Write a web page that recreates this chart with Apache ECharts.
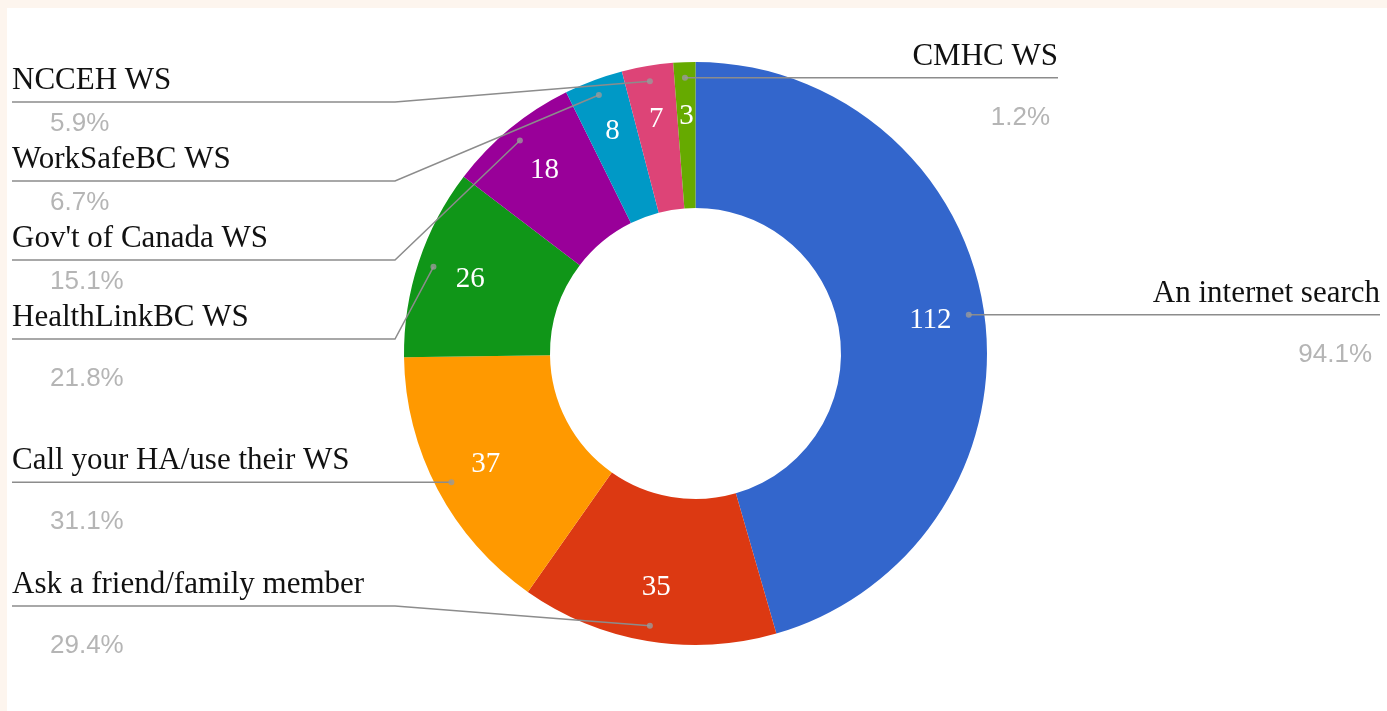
<!DOCTYPE html>
<html>
<head>
<meta charset="utf-8">
<script src="https://cdn.jsdelivr.net/npm/echarts@6/dist/echarts.min.js"></script>
<style>
  html, body { margin: 0; padding: 0; width: 1387px; height: 711px; overflow: hidden; background: #fdf5ee; }
  #paper { position: absolute; left: 7px; top: 8px; right: 0; bottom: 0; background: #fff; }
  #chartBox { position: absolute; left: 0; top: 0; width: 1387px; height: 711px; }
</style>
</head>
<body>
<div id="paper"></div>
<div id="chartBox"></div>
<script>
// data
var sources = ["An internet search", "Ask a friend/family member", "Call your HA/use their WS", "HealthLinkBC WS", "Gov't of Canada WS", "WorkSafeBC WS", "NCCEH WS", "CMHC WS"];
var counts = [112, 35, 37, 26, 18, 8, 7, 3];
var percentLabels = ["94.1%", "29.4%", "31.1%", "21.8%", "15.1%", "6.7%", "5.9%", "1.2%"];
var sliceColors = ["#3366cc", "#dc3912", "#ff9900", "#109618", "#990099", "#0099c6", "#dd4477", "#66aa00"];

// donut geometry (px)
var cx = 695.5, cy = 353.5, outerR = 291.5, innerR = 145.5, dotR = 276;

var total = counts.reduce(function (a, b) { return a + b; }, 0);

// leader line start points and which side each label goes to
var guides = [];
var cum = 0;
for (var i = 0; i < counts.length; i++) {
  var mid = cum + counts[i] / 2;
  cum += counts[i];
  var a = mid / total * Math.PI * 2;
  guides.push({
    mid: mid,
    x: cx + dotR * Math.sin(a),
    y: cy - dotR * Math.cos(a),
    side: Math.sin(a) > -0.05 ? "right" : "left"
  });
}

// push labels apart on each side so they don't overlap
function spread(side, top, bottom, gap) {
  var list = guides.filter(function (g) { return g.side === side; })
    .sort(function (p, q) { return p.y - q.y; });
  var prev = -Infinity;
  list.forEach(function (g) {
    g.lineY = Math.max(g.y, top, prev + gap);
    prev = g.lineY;
  });
  var next = Infinity;
  for (var j = list.length - 1; j >= 0; j--) {
    list[j].lineY = Math.min(list[j].lineY, bottom, next - gap);
    list[j].room = next - list[j].lineY;   // space down to the next label
    next = list[j].lineY;
  }
}
spread("left", 102, 606, 79);
spread("right", 60, 606, 79);

var chart = echarts.init(document.getElementById("chartBox"));

var pct = { fontFamily: "Liberation Sans", fontSize: 26, color: "#b5b5b5" };
function pctStyle(pad, lh) {
  return Object.assign({ padding: pad, lineHeight: lh }, pct);
}

var option = {
  animation: false,
  polar: { center: [cx, cy], radius: outerR },
  angleAxis: { type: "value", min: 0, max: total, startAngle: 90, clockwise: true, show: false },
  radiusAxis: { type: "value", min: 0, max: outerR, show: false },
  series: [
    {
      // the donut
      type: "pie",
      z: 2,
      center: [cx, cy],
      radius: [innerR, outerR],
      startAngle: 90,
      clockwise: true,
      silent: true,
      itemStyle: { borderWidth: 0 },
      label: { show: false },
      labelLine: { show: false },
      data: sources.map(function (s, i) {
        return { name: s, value: counts[i], itemStyle: { color: sliceColors[i] } };
      })
    },
    {
      // transparent pie on top, carries the names, percents and leader lines
      type: "pie",
      z: 5,
      center: [cx, cy],
      radius: [0, dotR],
      startAngle: 90,
      clockwise: true,
      silent: true,
      avoidLabelOverlap: false,
      itemStyle: { color: "rgba(0,0,0,0)", borderWidth: 0 },
      label: {
        show: true,
        position: "outside",
        width: 420,
        overflow: "none",
        formatter: function (p) {
          var g = guides[p.dataIndex];
          var key = (g.side === "left" ? "l" : "r") + (g.room < 100 ? "Tight" : "Loose");
          return "{n|" + p.name + "}\n{" + key + "|" + percentLabels[p.dataIndex] + "}";
        },
        rich: {
          n: { fontFamily: "Liberation Serif", fontSize: 31, color: "#111", lineHeight: 42 },
          lTight: pctStyle([0, 0, 0, 38], 44),
          lLoose: pctStyle([0, 0, 0, 38], 80),
          rTight: pctStyle([0, 8, 0, 0], 44),
          rLoose: pctStyle([0, 8, 0, 0], 80)
        }
      },
      labelLine: { show: true, lineStyle: { color: "#8c8c8c", width: 1.5 } },
      labelLayout: function (p) {
        var g = guides[p.dataIndex];
        var left = g.side === "left";
        var kneeX = left ? cx - outerR - 9 : cx + outerR + 9;
        var endX = left ? 12 : (g.y < cy - outerR * 0.8 ? 1058 : 1380);
        return {
          x: endX,
          y: g.lineY - 42,
          width: 420,
          align: left ? "left" : "right",
          verticalAlign: "top",
          labelLinePoints: [[g.x, g.y], [kneeX, g.lineY], [endX, g.lineY]]
        };
      },
      data: sources.map(function (s, i) {
        return { name: s, value: counts[i] };
      })
    },
    {
      // transparent ring that only carries the value labels
      type: "pie",
      z: 6,
      center: [cx, cy],
      radius: [177, outerR],
      startAngle: 90,
      clockwise: true,
      silent: true,
      itemStyle: { color: "rgba(0,0,0,0)", borderWidth: 0 },
      label: {
        show: true,
        position: "inside",
        formatter: "{c}",
        color: "#fff",
        fontFamily: "Liberation Serif",
        fontSize: 29
      },
      labelLine: { show: false },
      data: sources.map(function (s, i) {
        return { name: s, value: counts[i] };
      })
    },
    {
      // dots where the leader lines start
      type: "scatter",
      coordinateSystem: "polar",
      silent: true,
      z: 10,
      symbolSize: 6,
      itemStyle: { color: "#9a9a9a" },
      data: guides.map(function (g) { return [dotR, g.mid]; })
    }
  ]
};

chart.setOption(option);
</script>
</body>
</html>
